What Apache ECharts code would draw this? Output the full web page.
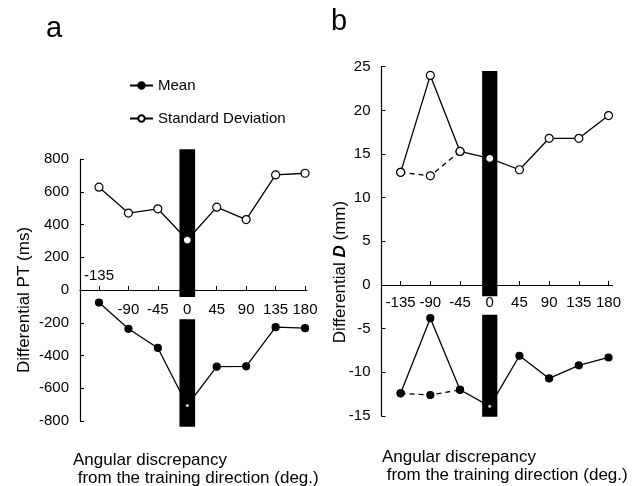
<!DOCTYPE html>
<html>
<head>
<meta charset="utf-8">
<script src="https://cdn.jsdelivr.net/npm/echarts@6/dist/echarts.min.js"></script>
<style>
html,body{margin:0;padding:0;background:#fff;}
#wrap{position:relative;width:640px;height:486px;background:#fff;}
.layer{position:absolute;left:0;top:0;width:640px;height:486px;}
</style>
</head>
<body>
<div id="wrap">
  <div class="layer" id="aLower"></div>
  <div class="layer" id="bLower"></div>
  <div class="layer" id="aUpper"></div>
  <div class="layer" id="bUpper"></div>
  <div class="layer" id="texts"></div>
</div>
<script>
// ---- data ----
const angles = [-135, -90, -45, 0, 45, 90, 135, 180];
const tickAngles = [-135, -90, -45, 0, 45, 90, 135, 180];
const labelAnglesA = [-90, -45, 0, 45, 90, 135, 180];
const labelAnglesATop = [-135];
const labelAnglesB = [-135, -90, -45, 0, 45, 90, 135, 180];
const ticksPT = [-800, -600, -400, -200, 0, 200, 400, 600, 800];
const ticksD = [-15, -10, -5, 0, 5, 10, 15, 20, 25];

const meanPT = [-77, -237, -354, -705, -468, -466, -227, -233];
const sdPT = [628, 470, 496, 305, 506, 430, 703, 713];

const meanD = [-12.4, -3.8, -12.0, -13.9, -8.1, -10.7, -9.2, -8.3];
const sdD = [12.9, 24.0, 15.3, 14.5, 13.2, 16.8, 16.8, 19.4];
const altAngles = [-135, -90, -45];
const meanDAlt = [-12.4, -12.6, -12.0];
const sdDAlt = [12.9, 12.5, 15.3];

// black training-direction bars: [xFrom, xTo, yTop, yBottom]
const barAUpper = [[-12, 12, 860, -42]];
const barALower = [[-12, 12, -178, -835]];
const barBUpper = [[-11.5, 11.5, 24.5, -1.3]];
const barBLower = [[-11.5, 11.5, -3.4, -15.1]];

// ---- helpers ----
const FONT = "'Liberation Sans', Arial, Helvetica, sans-serif";
const zip = (xs, ys) => xs.map((x, i) => [x, ys[i]]);
const idx0 = angles.indexOf(0);
const pos = v => v >= 0, neg = v => v <= 0, negL = v => v < 0;

const xMain = (max, labels, margin) => ({type: 'value', min: -164, max,
  axisLine: {show: true, onZero: false, lineStyle: {color: '#000', width: 1.2}},
  axisTick: {show: true, inside: true, length: 4, customValues: tickAngles, lineStyle: {color: '#000'}},
  axisLabel: {show: true, customValues: labels, margin, color: '#000', fontSize: 15, fontFamily: FONT},
  splitLine: {show: false}});
const xHidden = (max) => ({type: 'value', min: -164, max, show: false});
const yAx = (min, max, ticks, labels) => ({type: 'value', min, max,
  axisLine: {show: true, onZero: false, lineStyle: {color: '#000', width: 1.2}},
  axisTick: {show: true, inside: true, length: 4, customValues: ticks, lineStyle: {color: '#000'}},
  axisLabel: {show: true, customValues: labels, margin: 11, color: '#000', fontSize: 15, fontFamily: FONT},
  splitLine: {show: false}});
const line = (name, data, filled, dashed, xi) => ({name, type: 'line', clip: false, xAxisIndex: xi || 0,
  data, symbol: 'circle', symbolSize: filled ? 7 : 8,
  lineStyle: {color: '#000', width: 1.3, type: dashed ? [5, 4] : 'solid'},
  itemStyle: {color: filled ? '#000' : '#fff', borderColor: '#000', borderWidth: 1.2}});
const bar = (data) => ({type: 'custom', z: 3, clip: false, data,
  encode: {x: [0, 1], y: [2, 3]},
  renderItem: (p, api) => {
    const a = api.coord([api.value(0), api.value(2)]), b = api.coord([api.value(1), api.value(3)]);
    return {type: 'rect', shape: {x: a[0], y: a[1], width: b[0] - a[0], height: b[1] - a[1]}, style: {fill: '#000'}};
  }});
const dot = (pt, size) => ({type: 'scatter', z: 4, clip: false, data: [pt], symbol: 'circle', symbolSize: size, itemStyle: {color: '#fff'}});

function make(id, opt) {
  opt.animation = false;
  if (!opt.backgroundColor) opt.backgroundColor = 'transparent';
  echarts.init(document.getElementById(id)).setOption(opt);
}

// panel a, lower half axis (same px/unit as upper half)
make('aLower', {
  backgroundColor: '#fff',
  grid: {left: 80, top: 290, width: 227, height: 131},
  xAxis: xHidden(183),
  yAxis: yAx(-800, 0, ticksPT.filter(neg), ticksPT.filter(negL)),
  series: [bar(barALower)]
});

// panel b, lower half axis
make('bLower', {
  grid: {left: 381.5, top: 285, width: 231, height: 131},
  xAxis: xHidden(186),
  yAxis: yAx(-15, 0, ticksD.filter(neg), ticksD.filter(negL)),
  series: [bar(barBLower)]
});

// panel a, upper half: zero line + both series (continuing below with the same scale)
make('aUpper', {
  grid: {left: 80, top: 159, width: 227, height: 131},
  legend: {left: 124, top: 73, orient: 'vertical', itemGap: 18, itemWidth: 23, itemHeight: 8,
    textStyle: {color: '#000', fontSize: 15, fontFamily: FONT}, data: ['Mean', 'Standard Deviation']},
  xAxis: [
    xMain(183, labelAnglesA, 12),
    {type: 'value', min: -164, max: 183, position: 'bottom', axisLine: {show: false}, axisTick: {show: false}, splitLine: {show: false},
     axisLabel: {show: true, inside: true, customValues: labelAnglesATop, margin: 7, color: '#000', fontSize: 15, fontFamily: FONT}}
  ],
  yAxis: yAx(0, 800, ticksPT.filter(pos), ticksPT.filter(pos)),
  series: [
    line('Mean', zip(angles, meanPT), true, false),
    line('Standard Deviation', zip(angles, sdPT), false, false),
    bar(barAUpper),
    dot([angles[idx0], sdPT[idx0]], 5),
    dot([angles[idx0], meanPT[idx0]], 3)
  ]
});

// panel b, upper half
make('bUpper', {
  grid: {left: 381.5, top: 66.7, width: 231, height: 218.3},
  xAxis: xMain(186, labelAnglesB, 10),
  yAxis: yAx(0, 25, ticksD.filter(pos), ticksD.filter(pos)),
  series: [
    line('Mean', zip(angles, meanD), true, false),
    line('Standard Deviation', zip(angles, sdD), false, false),
    line('Mean (alt)', zip(altAngles, meanDAlt), true, true),
    line('SD (alt)', zip(altAngles, sdDAlt), false, true),
    bar(barBUpper),
    dot([angles[idx0], sdD[idx0]], 5),
    dot([angles[idx0], meanD[idx0]], 3)
  ]
});

// titles and axis names
make('texts', {
  graphic: [
    {type: 'text', x: 46, y: 14, style: {text: 'a', fontSize: 29, fontFamily: FONT, fill: '#000'}},
    {type: 'text', x: 331, y: 7, style: {text: 'b', fontSize: 29, fontFamily: FONT, fill: '#000'}},
    {type: 'text', x: 73, y: 451, style: {text: 'Angular discrepancy\n from the training direction (deg.)', fontSize: 17, lineHeight: 18, fontFamily: FONT, fill: '#000'}},
    {type: 'text', x: 382, y: 448, style: {text: 'Angular discrepancy\n from the training direction (deg.)', fontSize: 17, lineHeight: 18, fontFamily: FONT, fill: '#000'}},
    {type: 'text', x: 24, y: 300, rotation: Math.PI / 2, style: {text: 'Differential PT (ms)', fontSize: 17, fontFamily: FONT, fill: '#000', align: 'center', verticalAlign: 'middle'}},
    {type: 'text', x: 340, y: 272, rotation: Math.PI / 2, style: {text: '{n|Differential }{b|D}{n| (mm)}', align: 'center', verticalAlign: 'middle',
      rich: {n: {fontSize: 17, fontFamily: FONT, fill: '#000'}, b: {fontSize: 17, fontFamily: FONT, fontWeight: 'bold', fontStyle: 'italic', fill: '#000'}}}}
  ]
});
</script>
</body>
</html>
